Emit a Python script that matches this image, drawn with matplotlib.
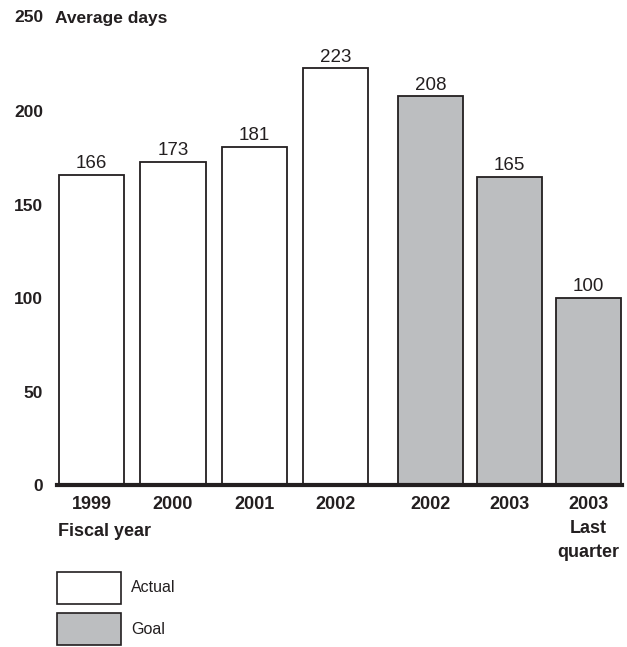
import matplotlib.pyplot as plt
from matplotlib.patches import Rectangle

plt.rcParams['font.family'] = ['Liberation Sans', 'DejaVu Sans']

# data
actual_years = ['1999', '2000', '2001', '2002']
actual_days = [166, 173, 181, 223]
goal_years = ['2002', '2003', '2003\nLast\nquarter']
goal_days = [208, 165, 100]
y_ticks = [0, 50, 100, 150, 200, 250]

ink = '#231f20'
goal_color = '#bcbec0'
gap = 0.17
width = 0.80

fig = plt.figure(figsize=(6.27, 6.47), dpi=100)
ax = fig.add_axes([57 / 627, 162 / 647, 565 / 627, 467 / 647])

x_act = list(range(len(actual_days)))
x_goal = [len(actual_days) + gap + i * 0.97 for i in range(len(goal_days))]

ax.bar(x_act, actual_days, width=width, color='white', edgecolor=ink, linewidth=1.3)
ax.bar(x_goal, goal_days, width=width, color=goal_color, edgecolor=ink, linewidth=1.3)

for x, v in zip(x_act + x_goal, actual_days + goal_days):
    ax.text(x, v + 1.5, str(v), ha='center', va='bottom', fontsize=13.5, color=ink)

ax.set_xlim(-0.426, x_goal[-1] + 0.41)
ax.set_ylim(0, 250)
ax.set_yticks(y_ticks)
ax.set_yticklabels([str(t) if t != 250 else '' for t in y_ticks],
                   fontsize=12.5, fontweight='bold', color=ink)
ax.set_xticks(x_act + x_goal)
ax.set_xticklabels(actual_years + goal_years, fontsize=13, fontweight='bold',
                   color=ink, linespacing=1.55)
ax.tick_params(axis='both', length=0)
ax.tick_params(axis='y', pad=10)
ax.tick_params(axis='x', pad=8)

for s in ['top', 'right', 'left']:
    ax.spines[s].set_visible(False)
ax.spines['bottom'].set_linewidth(3)
ax.spines['bottom'].set_color(ink)
ax.spines['bottom'].set_zorder(5)

fig.text(43 / 627, 1 - 18 / 647, '250', ha='right', va='center',
         fontsize=12.5, fontweight='bold', color=ink)
fig.text(55 / 627, 1 - 18 / 647, 'Average days', ha='left', va='center',
         fontsize=12.5, fontweight='bold', color=ink)
fig.text(58 / 627, 1 - 531 / 647, 'Fiscal year', ha='left', va='center',
         fontsize=13, fontweight='bold', color=ink)

# legend
for (y0, fc, lab) in [(572, 'white', 'Actual'), (613, goal_color, 'Goal')]:
    fig.add_artist(Rectangle((57 / 627, 1 - (y0 + 32) / 647), 64 / 627, 32 / 647,
                             transform=fig.transFigure, facecolor=fc,
                             edgecolor=ink, linewidth=1.2))
    fig.text(131 / 627, 1 - (y0 + 16) / 647, lab, ha='left', va='center',
             fontsize=11.5, color=ink)

plt.savefig('out.png', dpi=100)
